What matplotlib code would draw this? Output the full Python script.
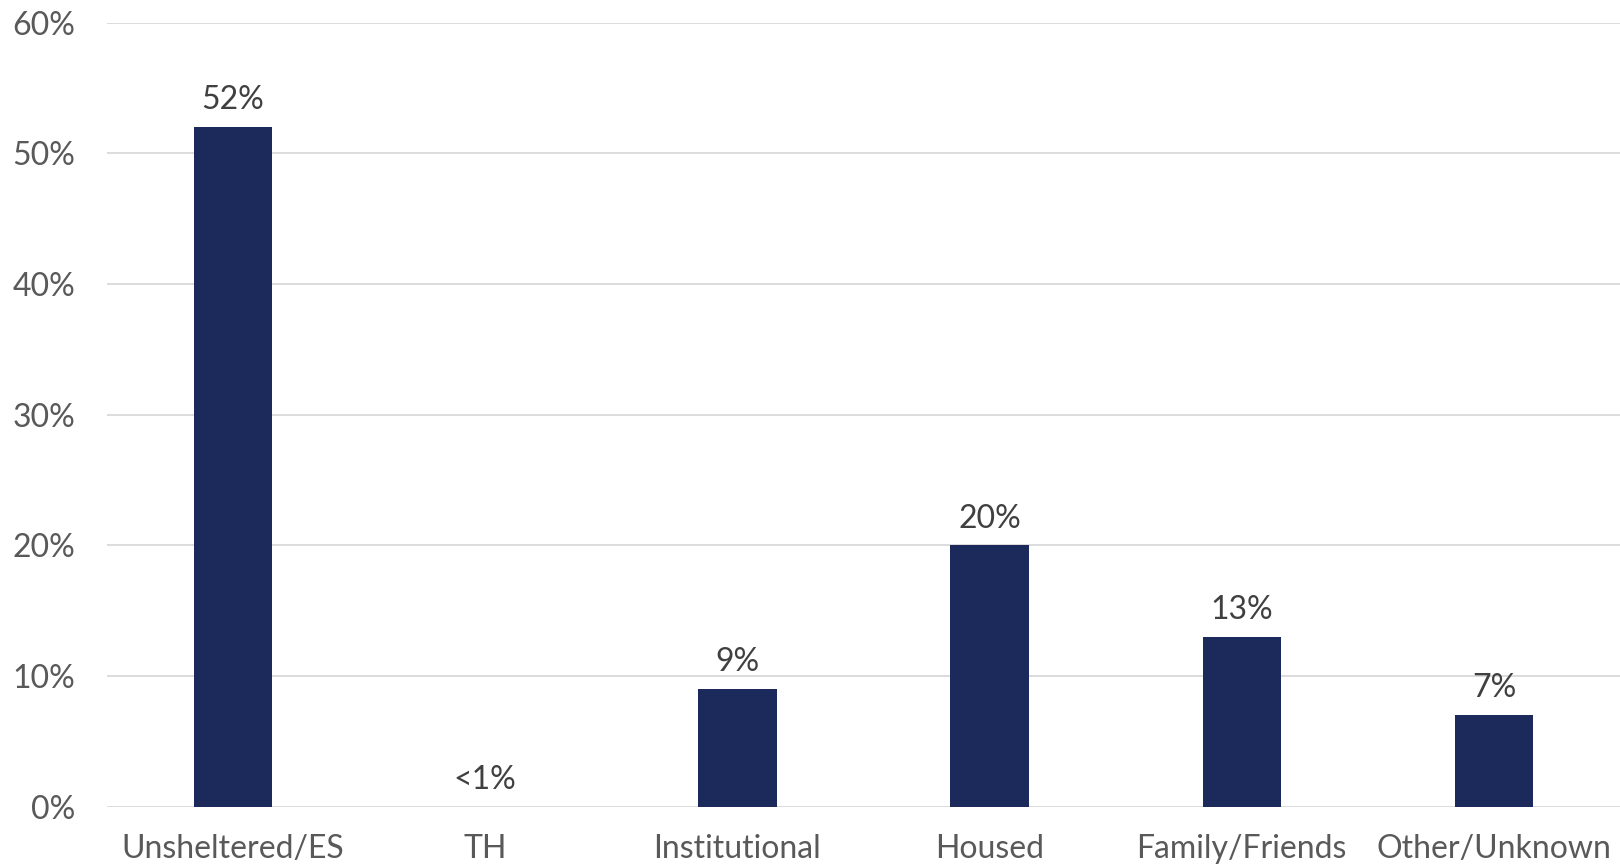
import numpy as np
import matplotlib.pyplot as plt

# data
categories = ['Unsheltered/ES', 'TH', 'Institutional', 'Housed', 'Family/Friends', 'Other/Unknown']
values = [52, 0, 9, 20, 13, 7]
labels = ['52%', '<1%', '9%', '20%', '13%', '7%']
yticks = [0, 10, 20, 30, 40, 50, 60]

plt.rcParams['font.family'] = ['Lato', 'DejaVu Sans']

fig = plt.figure(figsize=(16.2, 8.68), dpi=100)
ax = fig.add_axes([107 / 1620, 1 - 806.7 / 868, (1620 - 107) / 1620, (806.7 - 22.7) / 868])

x = np.arange(len(categories))
bars = ax.bar(x, values, width=0.31, color='#1B2A5A', zorder=3)

for xi, v, lab in zip(x, values, labels):
    ax.text(xi, v + 0.9, lab, ha='center', va='bottom', fontsize=23, color='#404040')

ax.set_xlim(-0.5, len(categories) - 0.5)
ax.set_ylim(0, 60)
ax.set_yticks(yticks)
ax.set_yticklabels([f'{t}%' for t in yticks])
ax.set_xticks(x)
ax.set_xticklabels(categories)
ax.tick_params(axis='both', length=0, labelsize=23, labelcolor='#595959')
ax.tick_params(axis='x', pad=20)
ax.tick_params(axis='y', pad=23)
ax.grid(axis='y', color='#D9D9D9', linewidth=1.3, zorder=0)
for s in ax.spines.values():
    s.set_visible(False)

fig.savefig('out.png', dpi=100)
